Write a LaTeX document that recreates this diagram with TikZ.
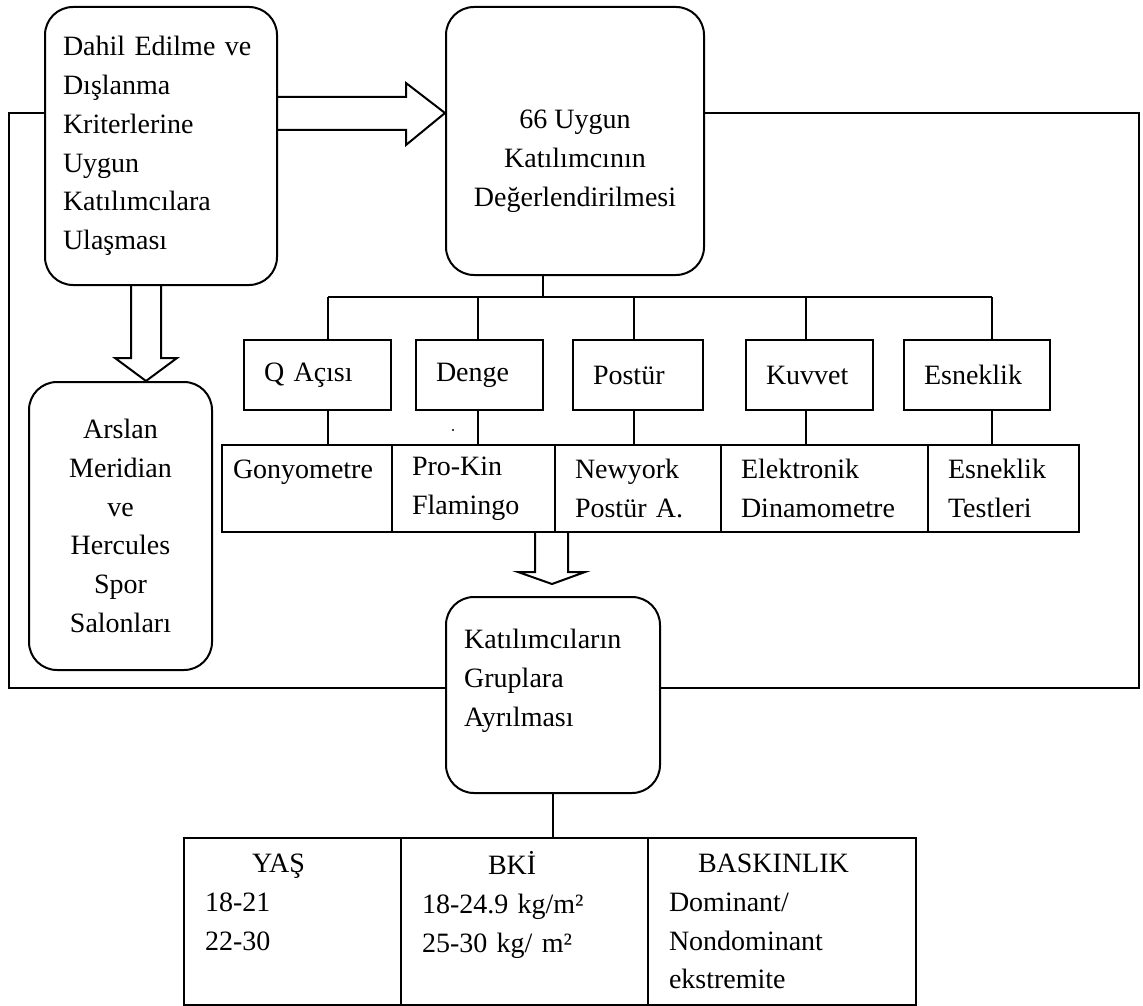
\documentclass[tikz,border=0pt]{standalone}
\usepackage{fontspec}
\setmainfont{Liberation Serif}
\begin{document}
\begin{tikzpicture}[
    x=1pt, y=-1pt,
    every node/.style={font=\fontsize{28}{38.8}\selectfont},
    box/.style={draw, line width=2pt, inner sep=0pt},
    rbox/.style={box, rounded corners=28pt},
    measure/.style={box, minimum height=70pt, inner xsep=20pt, align=left},
    cell/.style={box, minimum height=87pt, inner xsep=20pt, align=left},
    groupcell/.style={box, minimum height=167pt, inner xsep=21pt, align=left},
    link/.style={line width=2pt},
    hollow/.style={line width=2pt, line join=miter},
]
    \useasboundingbox (0, 0) rectangle (1143, 1006);

    %% reaching the participants, evaluating them, the gyms
    \node[rbox, minimum width=232pt, minimum height=278pt, text width=196pt,
        align=left] (dahil) at (161, 146)
        {Dahil Edilme ve\\Dışlanma\\Kriterlerine\\Uygun\\Katılımcılara\\Ulaşması};
    \node[rbox, minimum width=258pt, minimum height=268pt] (degerl) at (575, 141) {};
    \node[align=center, inner sep=0pt] (degerl-text) at (575, 161)
        {66 Uygun\\Katılımcının\\Değerlendirilmesi};
    \node[rbox, minimum width=183pt, minimum height=288pt, align=center]
        (salon) at (120.5, 526)
        {Arslan\\Meridian\\ve\\Hercules\\Spor\\Salonları};
    \draw[hollow] (dahil.east |- 0,97) -| (406, 83) -- (degerl.west |- 0,113)
        -- (406, 145) |- (dahil.east |- 0,130);
    \draw[hollow] (131,0 |- dahil.south) |- (115, 358) -- (146,0 |- salon.north)
        -- (177, 358) -| (161,0 |- dahil.south);

    %% the five measurements hanging from the evaluation
    \coordinate (bus) at (543, 297);
    \draw[link] (degerl.south -| bus) -- (bus);
    \draw[link] (bus -| 328,0) -- (bus -| 992,0);
    \foreach \name/\txt/\x/\w/\tw/\sx in {q/Q Açısı/317.5/147/107/328,
            denge/Denge/479.5/127/87/478, postur/Postür/638/130/90/634,
            kuvvet/Kuvvet/809.5/127/87/806, esnek/Esneklik/977/146/106/992}{
        \node[measure, minimum width=\w pt, text width=\tw pt]
            (m-\name) at (\x, 375) {\txt};
        \draw[link] (bus -| \sx,0) -- (\sx,0 |- m-\name.north);
    }

    %% the tool used for each measurement
    \foreach \name/\txt/\x/\w/\tw/\pad in {
            gony/{Gonyometre\\\mbox{}}/307/170/148/11,
            prokin/{Pro-Kin\\Flamingo}/473.5/163/123/20,
            newyork/{Newyork\\Postür A.}/638/166/126/20,
            elektro/{Elektronik\\Dinamometre}/824.5/207/167/20,
            testler/{Esneklik\\Testleri}/1003.5/151/111/20}{
        \node[cell, minimum width=\w pt, text width=\tw pt, inner xsep=\pad pt]
            (c-\name) at (\x, 488.5) {\txt};
    }
    \foreach \a/\b/\sx in {q/gony/328, denge/prokin/478, postur/newyork/634,
            kuvvet/elektro/806, esnek/testler/992}{
        \draw[link] (\sx,0 |- m-\a.south) -- (\sx,0 |- c-\b.north);
    }
    \fill (453, 430) circle (1.2pt);

    %% grouping the participants
    \node[rbox, minimum width=214pt, minimum height=196pt] (gruplar) at (553, 695) {};
    \node[align=left, inner sep=0pt, anchor=west] (gruplar-text) at (464, 681)
        {Katılımcıların\\Gruplara\\Ayrılması};
    \draw[hollow] (535,0 |- c-prokin.south) |- (518, 572) -- (552, 584)
        -- (585, 572) -| (568,0 |- c-prokin.south);
    \draw[link] (dahil.west |- 0,113) -| (9, 688) -- (gruplar.west |- 0,688);
    \draw[link] (degerl.east |- 0,113) -| (1139, 688) -- (gruplar.east |- 0,688);

    %% the three grouping criteria
    \foreach \name/\txt/\x/\w/\tw in {
            yas/{\hspace*{47pt}YAŞ\\18-21\\22-30\\\mbox{}}/292.5/217/175,
            bki/{\hspace*{66pt}BKİ\\18-24.9 kg/m²\\25-30 kg/ m²\\\mbox{}}/524.5/247/205,
            baskin/{\hspace*{29pt}BASKINLIK\\Dominant/\\Nondominant\\ekstremite}/782/268/226}{
        \node[groupcell, minimum width=\w pt, text width=\tw pt]
            (g-\name) at (\x, 921.5) {\txt};
    }
    \draw[link] (gruplar.south) -- (gruplar.south |- g-bki.north);
\end{tikzpicture}
\end{document}
